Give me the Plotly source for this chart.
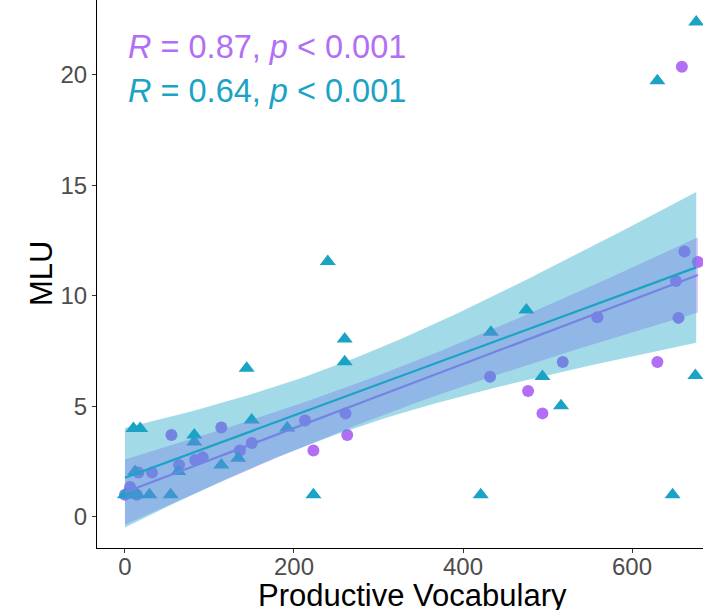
import numpy as np
import plotly.graph_objects as go

# ---- data (a few overlapping marks near the origin estimated) ----
circle_x = [0, 6, 14, 16, 32, 55, 64, 83, 92, 114, 136, 150, 213, 223, 261, 263,
            432, 477, 494, 518, 559, 630, 652, 655, 659, 662, 678]
circle_y = [1.0, 1.35, 1.0, 2.0, 2.0, 3.7, 2.34, 2.57, 2.69, 4.04, 3.0, 3.34, 4.36, 3.0, 4.68, 3.7,
            6.34, 5.69, 4.68, 7.0, 9.03, 7.0, 10.67, 9.0, 20.36, 12.0, 11.53]

tri_x = [0, 4, 8, 15, 29, 54, 12, 10, 18, 63, 82, 82, 114, 134, 144, 150, 192, 223, 240,
         260, 260, 421, 433, 475, 494, 516, 630, 648, 675, 676]
tri_y = [1.0, 1.0, 1.0, 1.0, 1.0, 1.0, 2.05, 4.0, 4.0, 2.05, 3.7, 3.38, 2.35, 2.65, 6.72, 4.38, 4.02,
         1.0, 11.55, 8.05, 7.02, 1.0, 8.35, 9.36, 6.35, 5.02, 19.73, 1.0, 6.39, 22.38]

stat_labels = ["<i>R</i> = 0.87, <i>p</i> &lt; 0.001", "<i>R</i> = 0.64, <i>p</i> &lt; 0.001"]
x_ticks = [0, 200, 400, 600]
y_ticks = [0, 5, 10, 15, 20]

PURPLE = "#B26EF5"
TEAL = "#1AA3C5"


def t_crit(df, z=1.959964):
    return (z + (z**3 + z) / (4 * df)
            + (5 * z**5 + 16 * z**3 + 3 * z) / (96 * df**2)
            + (3 * z**7 + 19 * z**5 + 17 * z**3 - 15 * z) / (384 * df**3))


def lm_band(xs, ys, n_grid=80):
    x = np.asarray(xs, float)
    y = np.asarray(ys, float)
    n = len(x)
    xb = x.mean()
    sxx = ((x - xb) ** 2).sum()
    b = ((x - xb) * (y - y.mean())).sum() / sxx
    a = y.mean() - b * xb
    resid = y - (a + b * x)
    s = np.sqrt((resid ** 2).sum() / (n - 2))
    g = np.linspace(x.min(), x.max(), n_grid)
    fit = a + b * g
    se = s * np.sqrt(1 / n + (g - xb) ** 2 / sxx)
    t = t_crit(n - 2)
    return g, fit, fit - t * se, fit + t * se


def rgba(hexc, a):
    h = hexc.lstrip("#")
    r, g, b = int(h[0:2], 16), int(h[2:4], 16), int(h[4:6], 16)
    return f"rgba({r},{g},{b},{a})"


fig = go.Figure()

fig.add_trace(go.Scatter(x=circle_x, y=circle_y, mode="markers",
                         marker=dict(symbol="circle", size=12, color=PURPLE, line=dict(width=0)),
                         hoverinfo="skip", showlegend=False))
fig.add_trace(go.Scatter(x=tri_x, y=tri_y, mode="markers",
                         marker=dict(symbol="triangle-up", size=14, color=TEAL, line=dict(width=0)),
                         hoverinfo="skip", showlegend=False))

for xs, ys, col in [(circle_x, circle_y, PURPLE), (tri_x, tri_y, TEAL)]:
    g, fit, lo, hi = lm_band(xs, ys)
    fig.add_trace(go.Scatter(x=np.concatenate([g, g[::-1]]), y=np.concatenate([hi, lo[::-1]]),
                             mode="lines", fill="toself", fillcolor=rgba(col, 0.4),
                             line=dict(width=0), hoverinfo="skip", showlegend=False))
    fig.add_trace(go.Scatter(x=g, y=fit, mode="lines", line=dict(color=col, width=2.2),
                             hoverinfo="skip", showlegend=False))

PLOT_H = 548
PLOT_W = 606
FONT = "Liberation Sans, Arial, sans-serif"


def py(p):
    return (PLOT_H - p) / PLOT_H


def px(p):
    return (p - 97) / PLOT_W


annotations = [
    dict(text=stat_labels[0], x=px(126), y=py(47), xref="paper", yref="paper",
         xanchor="left", yanchor="middle", showarrow=False,
         font=dict(size=32.5, color=PURPLE, family=FONT)),
    dict(text=stat_labels[1], x=px(126), y=py(91), xref="paper", yref="paper",
         xanchor="left", yanchor="middle", showarrow=False,
         font=dict(size=32.5, color=TEAL, family=FONT)),
    dict(text="Productive Vocabulary", x=px(412), y=py(595), xref="paper", yref="paper",
         xanchor="center", yanchor="middle", showarrow=False,
         font=dict(size=31, color="black", family=FONT)),
    dict(text="MLU", x=px(41), y=py(274), xref="paper", yref="paper", textangle=-90,
         xanchor="center", yanchor="middle", showarrow=False,
         font=dict(size=31, color="black", family=FONT)),
]

fig.update_layout(
    width=703, height=610,
    margin=dict(l=97, r=0, t=0, b=62, pad=0),
    paper_bgcolor="white", plot_bgcolor="white",
    font=dict(family=FONT),
    annotations=annotations,
    xaxis=dict(range=[-33.1, 684], tickvals=x_ticks, showgrid=False, zeroline=False,
               showline=True, linecolor="black", linewidth=1.2, ticks="outside", ticklen=4,
               tickwidth=1.1, tickcolor="#333333", tickfont=dict(size=24, color="#4D4D4D"),
               ticklabelstandoff=-7),
    yaxis=dict(range=[-1.41, 23.38], tickvals=y_ticks, showgrid=False, zeroline=False,
               showline=True, linecolor="black", linewidth=1.2, ticks="outside", ticklen=4,
               tickwidth=1.1, tickcolor="#333333", tickfont=dict(size=24, color="#4D4D4D")),
)

fig.write_html("out.html", config={"responsive": False, "displayModeBar": False},
               post_script="document.body.style.margin='0';document.body.style.overflow='hidden';")
